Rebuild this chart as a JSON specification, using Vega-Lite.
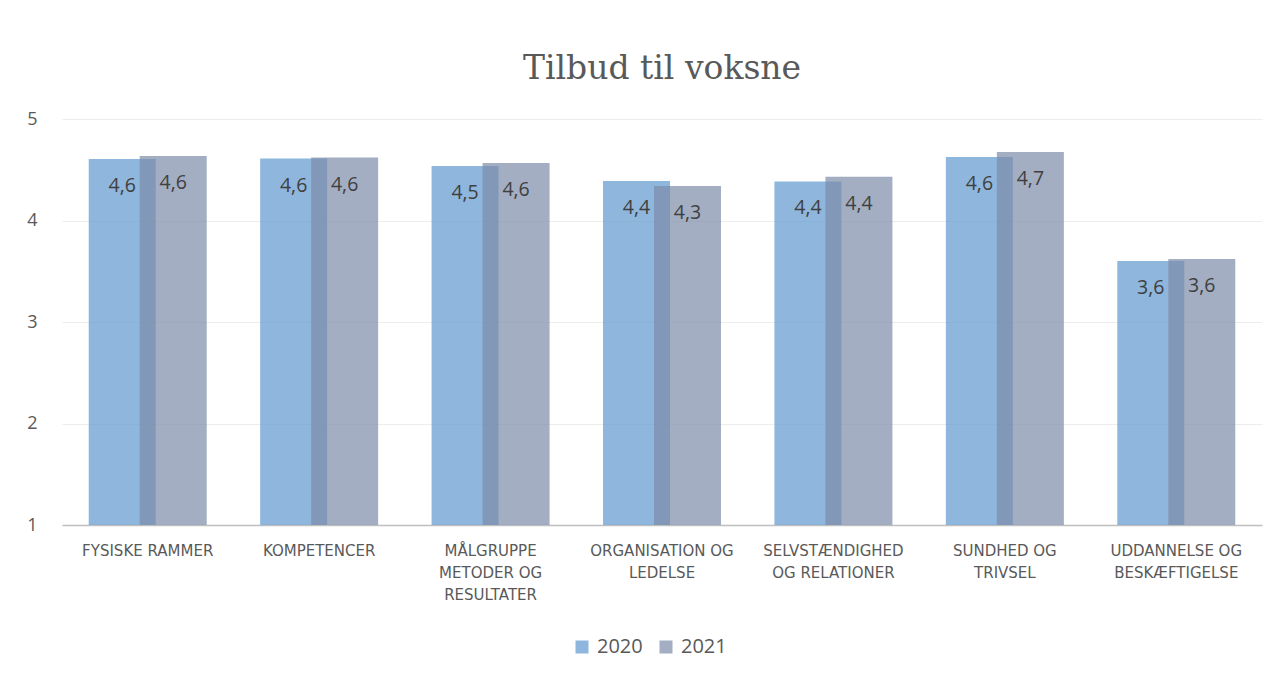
{
  "$schema": "https://vega.github.io/schema/vega-lite/v6.json",
  "width": 1200,
  "height": 406,
  "autosize": {"type": "none"},
  "padding": {"left": 62, "top": 119, "right": 20, "bottom": 150},
  "background": "white",
  "config": {
    "locale": {"number": {"decimal": ",", "thousands": ".", "grouping": [3], "currency": ["", " kr."]}},
    "view": {"stroke": null},
    "font": "Open Sans"
  },
  "title": {
    "text": "Tilbud til voksne",
    "font": "DejaVu Serif",
    "fontSize": 33,
    "fontWeight": "normal",
    "color": "#595959",
    "anchor": "middle",
    "offset": 24
  },
  "data": {
    "values": [
      {"cat": "Fysiske rammer", "year": "2020", "value": 4.606},
      {"cat": "Fysiske rammer", "year": "2021", "value": 4.635},
      {"cat": "Kompetencer", "year": "2020", "value": 4.61},
      {"cat": "Kompetencer", "year": "2021", "value": 4.62},
      {"cat": "Målgruppe metoder og resultater", "year": "2020", "value": 4.537},
      {"cat": "Målgruppe metoder og resultater", "year": "2021", "value": 4.567},
      {"cat": "Organisation og ledelse", "year": "2020", "value": 4.39},
      {"cat": "Organisation og ledelse", "year": "2021", "value": 4.34},
      {"cat": "Selvstændighed og relationer", "year": "2020", "value": 4.385},
      {"cat": "Selvstændighed og relationer", "year": "2021", "value": 4.43},
      {"cat": "Sundhed og trivsel", "year": "2020", "value": 4.625},
      {"cat": "Sundhed og trivsel", "year": "2021", "value": 4.675},
      {"cat": "Uddannelse og beskæftigelse", "year": "2020", "value": 3.6},
      {"cat": "Uddannelse og beskæftigelse", "year": "2021", "value": 3.62}
    ]
  },
  "encoding": {
    "x": {
      "field": "cat",
      "type": "nominal",
      "sort": null,
      "scale": {"paddingInner": 0, "paddingOuter": 0},
      "axis": {
        "title": null,
        "labelAngle": 0,
        "ticks": false,
        "domainColor": "#BFBFBF",
        "domainWidth": 1.5,
        "labelPadding": 25,
        "labelFont": "DejaVu Sans",
        "labelFontSize": 15,
        "labelColor": "#595959",
        "labelLineHeight": 22,
        "labelBaseline": "middle",
        "labelExpr": "datum.value == 'Målgruppe metoder og resultater' ? ['MÅLGRUPPE', 'METODER OG', 'RESULTATER'] : datum.value == 'Organisation og ledelse' ? ['ORGANISATION OG', 'LEDELSE'] : datum.value == 'Selvstændighed og relationer' ? ['SELVSTÆNDIGHED', 'OG RELATIONER'] : datum.value == 'Sundhed og trivsel' ? ['SUNDHED OG', 'TRIVSEL'] : datum.value == 'Uddannelse og beskæftigelse' ? ['UDDANNELSE OG', 'BESKÆFTIGELSE'] : upper(datum.value)"
      }
    },
    "y": {
      "field": "value",
      "type": "quantitative",
      "scale": {"domain": [1, 5], "nice": false, "zero": false},
      "axis": {
        "title": null,
        "values": [1, 2, 3, 4, 5],
        "domain": false,
        "ticks": false,
        "gridColor": "#EDEDED",
        "gridWidth": 1.2,
        "labelPadding": 25,
        "labelFontSize": 18,
        "labelColor": "#595959"
      }
    },
    "color": {
      "field": "year",
      "type": "nominal",
      "scale": {"domain": ["2020", "2021"], "range": ["#5F97CD", "#7C8BA8"]},
      "legend": {
        "title": null,
        "orient": "none",
        "legendX": 510,
        "legendY": 518,
        "padding": 0,
        "direction": "horizontal",
        "symbolType": "square",
        "symbolSize": 169,
        "symbolOpacity": 0.7,
        "symbolStrokeWidth": 0,
        "labelFontSize": 20,
        "labelOffset": 5,
        "labelColor": "#595959",
        "columnPadding": 13
      }
    }
  },
  "layer": [
    {
      "transform": [{"filter": "datum.year == '2020'"}],
      "mark": {"type": "bar", "width": 67, "xOffset": -25.5, "opacity": 0.7},
      "encoding": {"y2": {"datum": 1}}
    },
    {
      "transform": [{"filter": "datum.year == '2021'"}],
      "mark": {"type": "bar", "width": 67, "xOffset": 25.5, "opacity": 0.7},
      "encoding": {"y2": {"datum": 1}}
    },
    {
      "transform": [{"filter": "datum.year == '2020'"}],
      "mark": {"type": "text", "xOffset": -25.5, "dy": 27, "baseline": "middle", "align": "center", "fontSize": 19.5, "color": "#404040"},
      "encoding": {"text": {"field": "value", "type": "quantitative", "format": ".1f"}, "color": {"value": "#404040"}}
    },
    {
      "transform": [{"filter": "datum.year == '2021'"}],
      "mark": {"type": "text", "xOffset": 25.5, "dy": 27, "baseline": "middle", "align": "center", "fontSize": 19.5, "color": "#404040"},
      "encoding": {"text": {"field": "value", "type": "quantitative", "format": ".1f"}, "color": {"value": "#404040"}}
    }
  ]
}
